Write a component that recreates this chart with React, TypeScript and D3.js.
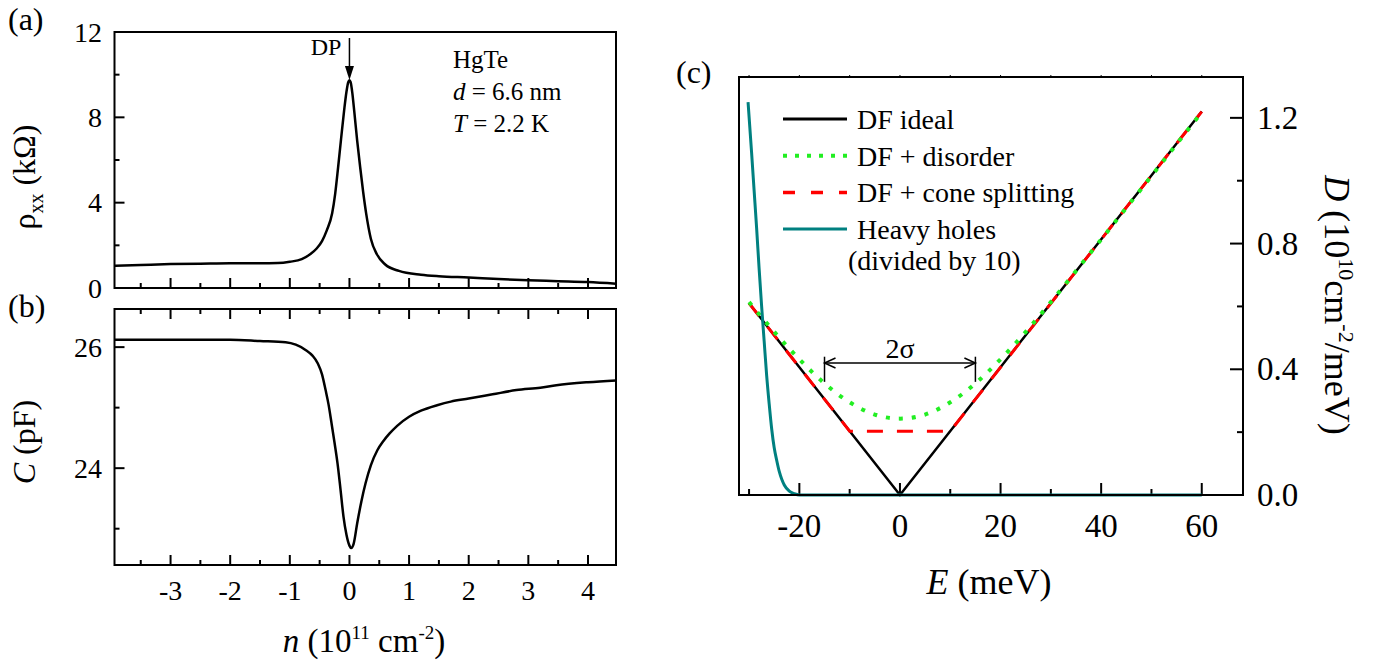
import React from 'react';
import * as d3 from 'd3';

// ---------- Panel (a): rho_xx vs n ----------
const nA = [-3.94, -3.5, -3, -2.5, -2, -1.5, -1.2, -1.0, -0.8, -0.66, -0.55, -0.46, -0.38, -0.29, -0.24, -0.19, -0.14, -0.09, -0.05, -0.02, 0.0, 0.02, 0.05, 0.08, 0.13, 0.18, 0.23, 0.28, 0.36, 0.46, 0.6, 0.83, 1.2, 1.5, 2, 2.5, 3, 3.5, 4, 4.47];
const rhoA = [1.04, 1.08, 1.12, 1.14, 1.16, 1.16, 1.17, 1.23, 1.35, 1.58, 1.85, 2.2, 2.7, 3.5, 4.4, 5.66, 7.0, 8.3, 9.2, 9.65, 9.74, 9.65, 9.1, 8.3, 6.9, 5.66, 4.5, 3.5, 2.3, 1.58, 1.1, 0.8, 0.62, 0.55, 0.49, 0.42, 0.36, 0.32, 0.28, 0.2];

// ---------- Panel (b): C vs n ----------
const nB = [-3.94, -3.5, -3, -2.5, -2, -1.5, -1.07, -0.9, -0.73, -0.62, -0.53, -0.46, -0.4, -0.35, -0.3, -0.25, -0.2, -0.15, -0.1, -0.05, 0.0, 0.03, 0.07, 0.13, 0.2, 0.27, 0.36, 0.47, 0.57, 0.67, 0.8, 1.0, 1.2, 1.47, 1.7, 2.0, 2.4, 2.8, 3.2, 3.47, 4.0, 4.47];
const capB = [26.12, 26.12, 26.12, 26.12, 26.12, 26.1, 26.08, 26.04, 25.95, 25.86, 25.73, 25.55, 25.29, 25.05, 24.74, 24.42, 24.08, 23.65, 23.2, 22.9, 22.72, 22.68, 22.75, 23.09, 23.45, 23.75, 24.05, 24.3, 24.45, 24.57, 24.7, 24.85, 24.95, 25.04, 25.1, 25.15, 25.22, 25.29, 25.33, 25.37, 25.42, 25.45];

// ---------- Panel (c): density of states ----------
const eIdeal = [-30, 0, 60];
const dIdeal = [0.61, 0, 1.22];
const eCone = [-30, -10, 10, 60];
const dCone = [0.61, 0.203, 0.203, 1.22];
const eDis = [-30, -25, -20, -15, -10, -5, 0, 5, 10, 15, 20, 25, 30, 35, 40, 50, 60];
const dDis = [0.614, 0.519, 0.432, 0.355, 0.295, 0.256, 0.243, 0.256, 0.295, 0.355, 0.432, 0.519, 0.614, 0.713, 0.813, 1.015, 1.218];
const eHH = [-30.2, -29.5, -29, -28.5, -28, -27.5, -27, -26.5, -26, -25.5, -25, -24.5, -24, -23.5, -23, -22, -21, -20, 60];
const dHH = [1.25, 1.09, 0.97, 0.85, 0.72, 0.6, 0.49, 0.38, 0.29, 0.21, 0.15, 0.11, 0.075, 0.05, 0.032, 0.012, 0.004, 0, 0];

// ---------- ticks & labels ----------
const nTicks = [-3, -2, -1, 0, 1, 2, 3, 4];
const nMinor = [-3.5, -2.5, -1.5, -0.5, 0.5, 1.5, 2.5, 3.5];
const rhoTicks = [0, 4, 8, 12];
const rhoMinor = [2, 6, 10];
const capTicks = [24, 26];
const capMinor = [23, 25];
const eTicks = [-20, 0, 20, 40, 60];
const eMinor = [-30, -10, 10, 30, 50];
const eTop = [-30, -20, -10, 0, 10, 20, 30, 40, 50, 60];
const dTicks = [0.0, 0.4, 0.8, 1.2];
const dMinor = [0.2, 0.6, 1.0];
const legendLabels = ['DF ideal', 'DF + disorder', 'DF + cone splitting', 'Heavy holes'];
const sigmaE = [-15, 15];

const FONT = "'Liberation Serif', 'Times New Roman', Times, 'DejaVu Serif', serif";
const zip = (a: number[], b: number[]) => a.map((v, i) => [v, b[i]] as [number, number]);

export default function App() {
  const xN = d3.scaleLinear().domain([-3.94, 4.47]).range([114.5, 616]);
  const yA = d3.scaleLinear().domain([0, 12]).range([288, 32]);
  const yB = d3.scaleLinear().domain([22.4, 26.63]).range([565, 309]);
  const xE = d3.scaleLinear().domain([-32, 68.2]).range([739, 1243]);
  const yD = d3.scaleLinear().domain([0, 1.33]).range([495, 77]);

  const lineA = d3.line<[number, number]>().x(d => xN(d[0])).y(d => yA(d[1])).curve(d3.curveMonotoneX);
  const lineB = d3.line<[number, number]>().x(d => xN(d[0])).y(d => yB(d[1])).curve(d3.curveMonotoneX);
  const lineC = d3.line<[number, number]>().x(d => xE(d[0])).y(d => yD(d[1]));
  const lineCs = d3.line<[number, number]>().x(d => xE(d[0])).y(d => yD(d[1])).curve(d3.curveMonotoneX);

  const [ax0, ax1] = xN.range();
  const [cx0, cx1] = xE.range();
  const ay0 = yA(0), ay1 = yA(12);
  const by0 = yB.range()[0], by1 = yB.range()[1];
  const cy0 = yD.range()[0], cy1 = yD.range()[1];

  const tk = { stroke: '#000', strokeWidth: 2 };
  const sigY = yD(0.42);

  return (
    <svg width={1394} height={670} style={{ position: 'absolute', left: 0, top: 0, background: '#fff', fontFamily: FONT }}>
      <style>{`text, tspan { font-family: ${FONT}; }`}</style>
      <rect x={0} y={0} width={1394} height={670} fill="#fff" />
      {/* ===== Panel a ===== */}
      <text x={8} y={30} fontSize={32}>(a)</text>
      {rhoTicks.map(v => (
        <g key={'ra' + v}>
          <line x1={ax0} x2={ax0 + 10} y1={yA(v)} y2={yA(v)} {...tk} />
          <text x={102} y={yA(v)} fontSize={28} textAnchor="end" dominantBaseline="central">{v}</text>
        </g>
      ))}
      {rhoMinor.map(v => <line key={'rm' + v} x1={ax0} x2={ax0 + 5} y1={yA(v)} y2={yA(v)} {...tk} />)}
      {nTicks.map(v => <line key={'an' + v} x1={xN(v)} x2={xN(v)} y1={ay0} y2={ay0 - 10} {...tk} />)}
      {nMinor.map(v => <line key={'anm' + v} x1={xN(v)} x2={xN(v)} y1={ay0} y2={ay0 - 5} {...tk} />)}
      <path d={lineA(zip(nA, rhoA)) || ''} fill="none" stroke="#000" strokeWidth={2.5} />
      <rect x={ax0} y={ay1} width={ax1 - ax0} height={ay0 - ay1} fill="none" stroke="#000" strokeWidth={2} />
      <text transform={`translate(35,177) rotate(-90)`} fontSize={32} textAnchor="middle">
        ρ<tspan fontSize={20} dy={8}>xx</tspan><tspan dy={-8}> (kΩ)</tspan>
      </text>
      <text x={326} y={55} fontSize={24} textAnchor="middle">DP</text>
      <line x1={xN(0)} x2={xN(0)} y1={38} y2={68} stroke="#000" strokeWidth={1.5} />
      <path d={`M${xN(0) - 4.5},66 L${xN(0) + 4.5},66 L${xN(0)},80 Z`} fill="#000" />
      <text x={453} y={68} fontSize={25}>HgTe</text>
      <text x={453} y={100} fontSize={25}><tspan fontStyle="italic">d</tspan> = 6.6 nm</text>
      <text x={453} y={132} fontSize={25}><tspan fontStyle="italic">T</tspan> = 2.2 K</text>

      {/* ===== Panel b ===== */}
      <text x={8} y={317} fontSize={32}>(b)</text>
      {capTicks.map(v => (
        <g key={'cb' + v}>
          <line x1={ax0} x2={ax0 + 10} y1={yB(v)} y2={yB(v)} {...tk} />
          <text x={102} y={yB(v)} fontSize={28} textAnchor="end" dominantBaseline="central">{v}</text>
        </g>
      ))}
      {capMinor.map(v => <line key={'cbm' + v} x1={ax0} x2={ax0 + 5} y1={yB(v)} y2={yB(v)} {...tk} />)}
      {nTicks.map(v => (
        <g key={'bn' + v}>
          <line x1={xN(v)} x2={xN(v)} y1={by0} y2={by0 - 10} {...tk} />
          <line x1={xN(v)} x2={xN(v)} y1={by1} y2={by1 + 10} {...tk} />
          <text x={xN(v)} y={600} fontSize={28} textAnchor="middle">{v}</text>
        </g>
      ))}
      {nMinor.map(v => (
        <g key={'bnm' + v}>
          <line x1={xN(v)} x2={xN(v)} y1={by0} y2={by0 - 5} {...tk} />
          <line x1={xN(v)} x2={xN(v)} y1={by1} y2={by1 + 5} {...tk} />
        </g>
      ))}
      <path d={lineB(zip(nB, capB)) || ''} fill="none" stroke="#000" strokeWidth={2.5} />
      <rect x={ax0} y={by1} width={ax1 - ax0} height={by0 - by1} fill="none" stroke="#000" strokeWidth={2} />
      <text transform={`translate(35,442) rotate(-90)`} fontSize={32} textAnchor="middle">
        <tspan fontStyle="italic">C</tspan> (pF)
      </text>
      <text x={364} y={652} fontSize={33} textAnchor="middle">
        <tspan fontStyle="italic">n</tspan> (10<tspan fontSize={19} dy={-13}>11</tspan><tspan dy={13}> cm</tspan><tspan fontSize={19} dy={-13}>-2</tspan><tspan dy={13}>)</tspan>
      </text>

      {/* ===== Panel c ===== */}
      <text x={676} y={83} fontSize={32}>(c)</text>
      {eTicks.map(v => (
        <g key={'ce' + v}>
          <line x1={xE(v)} x2={xE(v)} y1={cy0} y2={cy0 - 12} {...tk} />
          <text x={xE(v)} y={537} fontSize={33} textAnchor="middle">{v}</text>
        </g>
      ))}
      {eMinor.map(v => <line key={'cem' + v} x1={xE(v)} x2={xE(v)} y1={cy0} y2={cy0 - 6} {...tk} />)}
      {eTop.map(v => <line key={'cet' + v} x1={xE(v)} x2={xE(v)} y1={cy1} y2={cy1 - 2} stroke="#000" strokeWidth={1} />)}
      {dTicks.map(v => (
        <g key={'cd' + v}>
          <line x1={cx1} x2={cx1 - 13} y1={yD(v)} y2={yD(v)} {...tk} />
          <text x={1257} y={yD(v)} fontSize={33} dominantBaseline="central">{v.toFixed(1)}</text>
        </g>
      ))}
      {dMinor.map(v => <line key={'cdm' + v} x1={cx1} x2={cx1 - 6} y1={yD(v)} y2={yD(v)} {...tk} />)}

      <path d={lineC(zip(eIdeal, dIdeal)) || ''} fill="none" stroke="#000" strokeWidth={2.5} />
      <path d={lineC(zip(eCone, dCone)) || ''} fill="none" stroke="#ff0000" strokeWidth={3} strokeDasharray="16,14" />
      <path d={lineCs(zip(eDis, dDis)) || ''} fill="none" stroke="#22ee22" strokeWidth={4} strokeDasharray="4,9" />
      <path d={lineCs(zip(eHH, dHH)) || ''} fill="none" stroke="#008080" strokeWidth={3} />
      <rect x={cx0} y={cy1} width={cx1 - cx0} height={cy0 - cy1} fill="none" stroke="#000" strokeWidth={2} />

      {/* 2 sigma annotation */}
      <line x1={xE(sigmaE[0])} x2={xE(sigmaE[1])} y1={sigY} y2={sigY} stroke="#000" strokeWidth={1.5} />
      {sigmaE.map((v, i) => (
        <g key={'sg' + v}>
          <line x1={xE(v)} x2={xE(v)} y1={yD(0.44)} y2={yD(0.36)} stroke="#000" strokeWidth={1.5} />
          <path d={`M${xE(v) + (i === 0 ? 11 : -11)},${sigY - 5} L${xE(v)},${sigY} L${xE(v) + (i === 0 ? 11 : -11)},${sigY + 5}`} fill="none" stroke="#000" strokeWidth={1.5} />
        </g>
      ))}
      <text x={xE(0)} y={358} fontSize={28} textAnchor="middle">2σ</text>

      {/* legend */}
      {legendLabels.map((lab, i) => {
        const y = 119 + i * 36.7;
        const styles = [
          { stroke: '#000', strokeWidth: 3 },
          { stroke: '#22ee22', strokeWidth: 4, strokeDasharray: '4,8' },
          { stroke: '#ff0000', strokeWidth: 3.5, strokeDasharray: '12,16' },
          { stroke: '#008080', strokeWidth: 3 },
        ][i];
        return (
          <g key={lab}>
            <line x1={783} x2={847} y1={y} y2={y} {...styles} />
            <text x={857} y={y + 10} fontSize={28}>{lab}</text>
          </g>
        );
      })}
      <text x={848} y={270} fontSize={28}>(divided by 10)</text>

      <text x={989} y={594} fontSize={36} textAnchor="middle">
        <tspan fontStyle="italic">E</tspan> (meV)
      </text>
      <text transform={`translate(1325,305) rotate(90)`} fontSize={36} textAnchor="middle">
        <tspan fontStyle="italic">D</tspan> (10<tspan fontSize={22} dy={-14}>10</tspan><tspan dy={14}>cm</tspan><tspan fontSize={22} dy={-14}>-2</tspan><tspan dy={14}>/meV)</tspan>
      </text>
    </svg>
  );
}
